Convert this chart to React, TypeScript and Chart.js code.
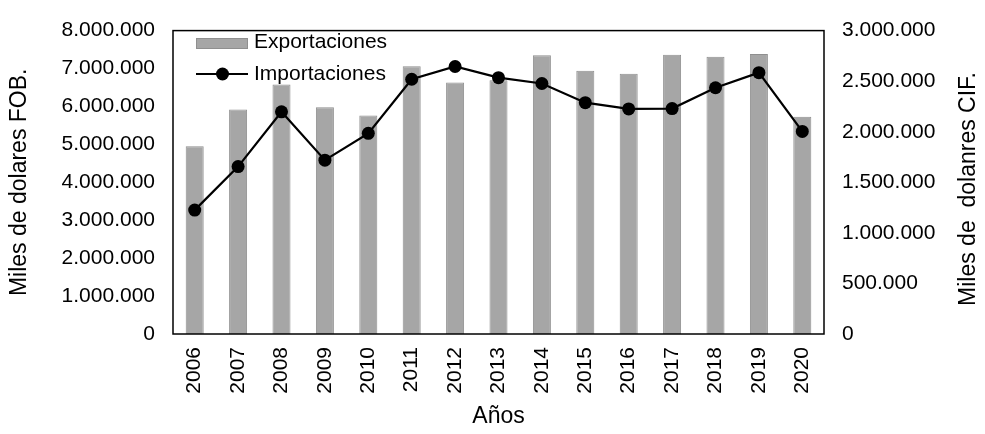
import React, { useEffect, useRef } from "react";
import { Chart, registerables } from "chart.js";

Chart.register(...registerables);

const years = ["2006", "2007", "2008", "2009", "2010", "2011", "2012", "2013", "2014", "2015", "2016", "2017", "2018", "2019", "2020"];
const exportaciones = [4950000, 5920000, 6580000, 5980000, 5760000, 7060000, 6630000, 6690000, 7350000, 6940000, 6860000, 7360000, 7310000, 7380000, 5730000];
const importaciones = [1225000, 1655000, 2197000, 1719000, 1984000, 2519000, 2645000, 2535000, 2477000, 2287000, 2226000, 2229000, 2435000, 2584000, 2003000];
const seriesNames = ["Exportaciones", "Importaciones"];
const leftTitle = "Miles de dolares FOB.";
const rightTitle = "Miles de  dolanres CIF.";
const xTitle = "Años";
const leftMax = 8000000;
const leftStep = 1000000;
const rightMax = 3000000;
const rightStep = 500000;

const FONT = "'Liberation Sans', Arial, sans-serif";
const BAR_FILL = "#A6A6A6";
const BAR_EDGE = "#8F8F8F";

function fmt(v: number | string): string {
  return String(Math.round(Number(v))).replace(/\B(?=(\d{3})+(?!\d))/g, ".");
}

const overlay = {
  id: "overlay",
  afterDatasetsDraw(chart: any) {
    const { ctx, chartArea: a } = chart;
    ctx.save();
    // plot border
    ctx.strokeStyle = "#000";
    ctx.lineWidth = 1.5;
    ctx.strokeRect(a.left, a.top, a.right - a.left, a.bottom - a.top);

    // legend
    ctx.font = `21px ${FONT}`;
    ctx.textBaseline = "middle";
    ctx.textAlign = "left";
    ctx.fillStyle = BAR_FILL;
    ctx.fillRect(196, 38, 52, 11);
    ctx.strokeStyle = BAR_EDGE;
    ctx.lineWidth = 1;
    ctx.strokeRect(196.5, 38.5, 51, 10);
    ctx.fillStyle = "#000";
    ctx.fillText(chart.data.datasets[1].label, 254, 42);

    ctx.strokeStyle = "#000";
    ctx.lineWidth = 2.2;
    ctx.beginPath();
    ctx.moveTo(196, 74);
    ctx.lineTo(248, 74);
    ctx.stroke();
    ctx.beginPath();
    ctx.arc(222.5, 74, 6.5, 0, Math.PI * 2);
    ctx.fill();
    ctx.fillText(chart.data.datasets[0].label, 254, 74);

    // axis titles
    ctx.font = `23px ${FONT}`;
    ctx.textAlign = "center";
    ctx.textBaseline = "middle";
    ctx.save();
    ctx.translate(20, (a.top + a.bottom) / 2);
    ctx.rotate(-Math.PI / 2);
    ctx.fillText(leftTitle, 0, 0);
    ctx.restore();

    ctx.save();
    ctx.translate(969, 189);
    ctx.rotate(-Math.PI / 2);
    ctx.fillText(rightTitle, 0, 0);
    ctx.restore();

    ctx.fillText(xTitle, (a.left + a.right) / 2, 417);
    ctx.restore();
  },
};

export default function App() {
  const ref = useRef<HTMLCanvasElement | null>(null);

  useEffect(() => {
    document.body.style.margin = "0";
    const canvas = ref.current;
    if (!canvas) return;
    const tickFont = { family: FONT, size: 21 };
    const chart = new Chart(canvas, {
      type: "bar",
      data: {
        labels: years,
        datasets: [
          {
            type: "line",
            label: seriesNames[1],
            data: importaciones,
            yAxisID: "y1",
            borderColor: "#000",
            backgroundColor: "#000",
            borderWidth: 2.2,
            pointRadius: 6.5,
            pointBackgroundColor: "#000",
            pointBorderColor: "#000",
            pointBorderWidth: 0,
            tension: 0,
            order: 0,
          } as any,
          {
            type: "bar",
            label: seriesNames[0],
            data: exportaciones,
            yAxisID: "y",
            backgroundColor: BAR_FILL,
            borderColor: BAR_EDGE,
            borderWidth: 1,
            barPercentage: 0.415,
            categoryPercentage: 1,
            order: 1,
          } as any,
        ],
      },
      options: {
        responsive: false,
        animation: false,
        devicePixelRatio: 1,
        layout: { padding: { top: 24, left: 0, right: 0, bottom: 0 } },
        plugins: { legend: { display: false }, tooltip: { enabled: false } },
        scales: {
          x: {
            type: "category",
            offset: true,
            grid: { display: false, drawTicks: false },
            border: { display: false },
            ticks: { autoSkip: false, minRotation: 90, maxRotation: 90, padding: 13, color: "#000", font: tickFont },
            afterFit: (s: any) => { s.height = 100; },
          },
          y: {
            position: "left",
            min: 0,
            max: leftMax,
            grid: { display: false, drawTicks: false },
            border: { display: false },
            ticks: { stepSize: leftStep, padding: 18, color: "#000", font: tickFont, callback: (v: any) => fmt(v) },
            afterFit: (s: any) => { s.width = 173; },
          },
          y1: {
            position: "right",
            min: 0,
            max: rightMax,
            grid: { display: false, drawTicks: false },
            border: { display: false },
            ticks: { stepSize: rightStep, padding: 18, color: "#000", font: tickFont, callback: (v: any) => fmt(v) },
            afterFit: (s: any) => { s.width = 161; },
          },
        },
      } as any,
      plugins: [overlay],
    });
    return () => chart.destroy();
  }, []);

  return (
    <canvas
      ref={ref}
      width={985}
      height={434}
      style={{ display: "block", width: "985px", height: "434px" }}
    />
  );
}
